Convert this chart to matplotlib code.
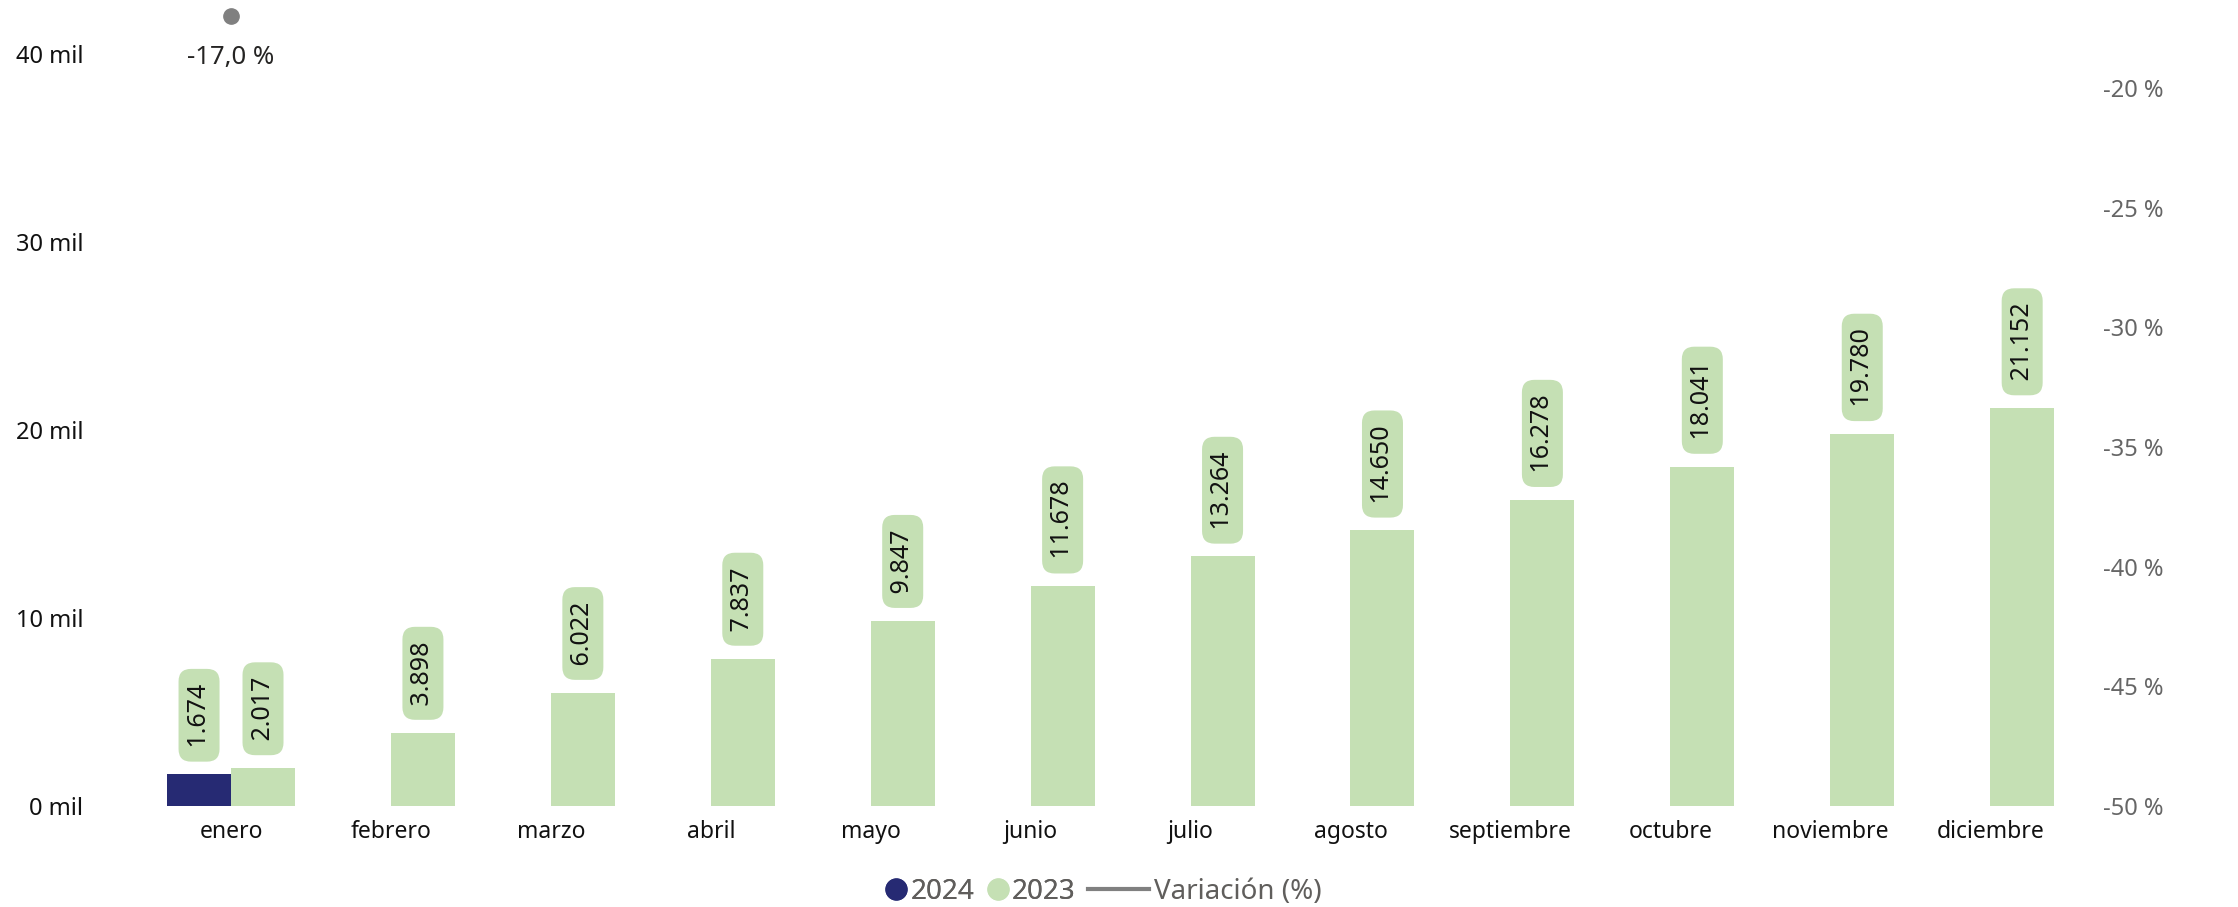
import matplotlib.pyplot as plt
import numpy as np
from matplotlib.ticker import FuncFormatter
from matplotlib.lines import Line2D

plt.rcParams['font.family'] = ['Noto Sans', 'DejaVu Sans']

# data
meses = ["enero", "febrero", "marzo", "abril", "mayo", "junio", "julio",
         "agosto", "septiembre", "octubre", "noviembre", "diciembre"]
valores_2024 = [1674]
valores_2023 = [2017, 3898, 6022, 7837, 9847, 11678, 13264, 14650,
                16278, 18041, 19780, 21152]
variacion = [-17.0]

c_2024 = "#262A73"
c_2023 = "#C5E0B4"
c_var = "#808080"

fig = plt.figure(figsize=(22.38, 9.07), dpi=100)
ax = fig.add_axes([0.0675, 0.1114, 0.8575, 0.878])
ax2 = ax.twinx()

x = np.arange(len(meses))
w = 0.4
x24 = x[:len(valores_2024)]
b24 = ax.bar(x24 - w / 2, valores_2024, width=w, color=c_2024)
b23 = ax.bar(x + w / 2, valores_2023, width=w, color=c_2023)

def fmt_miles(v):
    return f"{v:,}".replace(",", ".")

# labels in rounded boxes above the bars
for bars, vals in ((b24, valores_2024), (b23, valores_2023)):
    for rect, v in zip(bars, vals):
        ax.annotate(" " + fmt_miles(v) + " ", (rect.get_x() + rect.get_width() / 2, v),
                    xytext=(0, 15), textcoords="offset points",
                    rotation=90, ha="center", va="bottom", fontsize=18,
                    color="#111111",
                    bbox=dict(boxstyle="round,pad=0.32,rounding_size=0.5",
                              fc=c_2023, ec="none"))

ax.set_xlim(-0.5, len(meses) - 0.5)
ax.set_ylim(0, 42340)
ax.set_yticks([0, 10000, 20000, 30000, 40000])
ax.yaxis.set_major_formatter(FuncFormatter(lambda v, p: f"{int(v / 1000)} mil"))
ax.set_xticks(x)
ax.set_xticklabels(meses)
ax.tick_params(axis="x", length=0, pad=10, labelsize=16.5, colors="#111111")
ax.tick_params(axis="y", length=0, pad=49, labelsize=17, colors="#111111")

# variacion (only one month)
xv = x[:len(variacion)]
ax2.plot(xv, variacion, color=c_var, lw=3, marker="o", markersize=11, clip_on=False)
for xi, v in zip(xv, variacion):
    ax2.annotate(f"{v:.1f} %".replace(".", ","), (xi, v), xytext=(0, -21),
                 textcoords="offset points", ha="center", va="top",
                 fontsize=18.5, color="#252423")
ax2.set_ylim(-50, -16.72)
ax2.set_yticks(np.arange(-50, -19, 5))
ax2.yaxis.set_major_formatter(FuncFormatter(lambda v, p: f"{int(round(v))} %"))
ax2.tick_params(axis="y", length=0, pad=24, labelsize=17, colors="#666666")

for a in (ax, ax2):
    for s in a.spines.values():
        s.set_visible(False)

# legend in two parts so the line handle can be longer than the dots
h_dots = [
    Line2D([], [], marker="o", ls="none", color=c_2024, markersize=15),
    Line2D([], [], marker="o", ls="none", color=c_2023, markersize=15),
]
leg1 = fig.legend(h_dots, ["2024", "2023"], loc="center right",
                  bbox_to_anchor=(0.4805, 0.0165), ncol=2, frameon=False,
                  fontsize=20, labelcolor="#605E5C", handlelength=0.6,
                  handletextpad=0.2, columnspacing=0.55, borderpad=0,
                  borderaxespad=0)
fig.add_artist(leg1)
fig.legend([Line2D([], [], color=c_var, lw=3)], ["Variación (%)"],
           loc="center left", bbox_to_anchor=(0.486, 0.0165), frameon=False,
           fontsize=20, labelcolor="#605E5C", handlelength=2.2,
           handletextpad=0.2, borderpad=0, borderaxespad=0)

fig.savefig("out.png", dpi=100)
